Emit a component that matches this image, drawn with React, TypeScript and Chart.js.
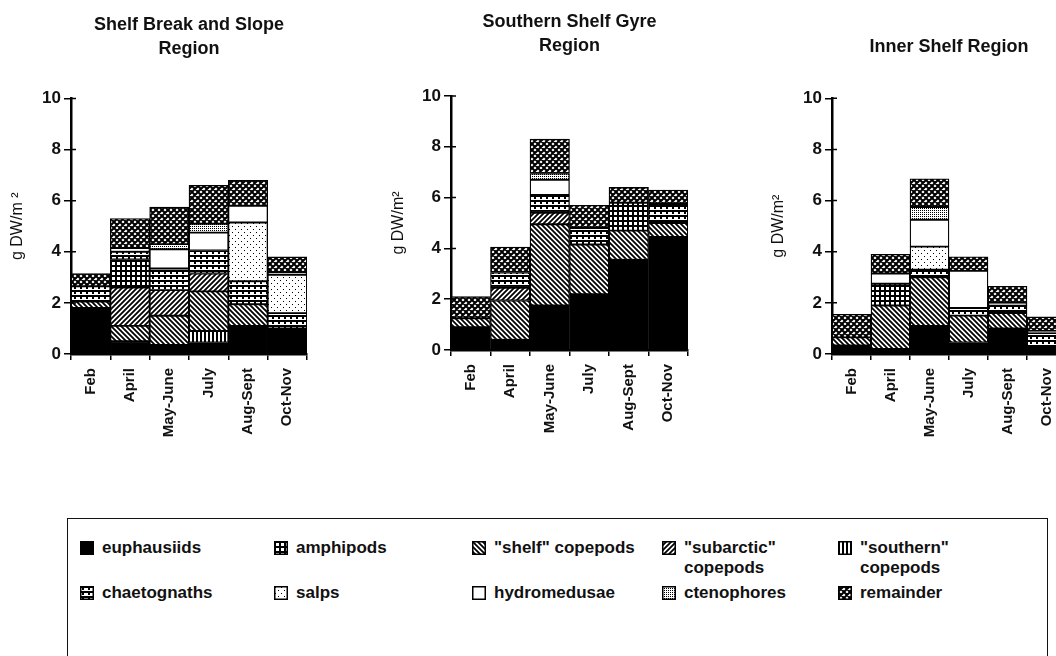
import React, { useEffect, useRef } from 'react';
import { Chart, registerables } from 'chart.js';

Chart.register(...registerables);
Chart.defaults.font.family = '"Liberation Sans", Arial, Helvetica, sans-serif';

// ---------- categories ----------
const months = ['Feb', 'April', 'May-June', 'July', 'Aug-Sept', 'Oct-Nov'];
const yTicks = [0, 2, 4, 6, 8, 10];

// ---------- Shelf Break and Slope Region (g DW/m2) ----------
const slopeEuphausiids = [1.8, 0.5, 0.35, 0.45, 1.1, 1.0];
const slopeSouthern = [0, 0, 0, 0.45, 0, 0];
const slopeShelf = [0.25, 0.6, 1.15, 1.55, 0.85, 0];
const slopeSubarctic = [0, 1.5, 1.0, 0.7, 0, 0];
const slopeAmphipods = [0, 1.1, 0, 0, 0, 0];
const slopeChaetognaths = [0.6, 0.3, 0.85, 0.9, 0.9, 0.6];
const slopeSalps = [0, 0, 0, 0, 2.3, 1.5];
const slopeHydromedusae = [0, 0.15, 0.75, 0.7, 0.65, 0.1];
const slopeCtenophores = [0, 0, 0.2, 0.35, 0, 0];
const slopeRemainder = [0.5, 1.15, 1.45, 1.5, 1.0, 0.6];

// ---------- Southern Shelf Gyre Region ----------
const gyreEuphausiids = [0.9, 0.4, 1.75, 2.2, 3.55, 4.45];
const gyreSouthern = [0, 0, 0, 0, 0, 0];
const gyreShelf = [0.35, 1.55, 3.2, 1.95, 1.15, 0.55];
const gyreSubarctic = [0, 0.5, 0.45, 0, 0, 0];
const gyreAmphipods = [0, 0, 0, 0, 1.1, 0];
const gyreChaetognaths = [0, 0.6, 0.7, 0.65, 0, 0.75];
const gyreSalps = [0, 0, 0, 0, 0, 0];
const gyreHydromedusae = [0, 0, 0.6, 0, 0, 0];
const gyreCtenophores = [0, 0, 0.25, 0, 0, 0];
const gyreRemainder = [0.85, 1.0, 1.35, 0.9, 0.6, 0.55];

// ---------- Inner Shelf Region ----------
const innerEuphausiids = [0.33, 0.2, 1.1, 0.45, 1.0, 0.27];
const innerSouthern = [0, 0, 0, 0, 0, 0];
const innerShelf = [0.32, 1.7, 1.9, 1.05, 0.6, 0];
const innerSubarctic = [0, 0, 0, 0, 0, 0];
const innerAmphipods = [0, 0.85, 0, 0, 0, 0];
const innerChaetognaths = [0, 0, 0.3, 0.3, 0.3, 0.55];
const innerSalps = [0, 0, 0.9, 0, 0, 0];
const innerHydromedusae = [0, 0.4, 1.05, 1.45, 0.1, 0.08];
const innerCtenophores = [0, 0, 0.5, 0, 0, 0];
const innerRemainder = [0.9, 0.75, 1.1, 0.55, 0.65, 0.55];

// stacking order (bottom to top) and pattern kind of each group
const stackNames = [
  'euphausiids', '"southern" copepods', '"shelf" copepods', '"subarctic" copepods', 'amphipods',
  'chaetognaths', 'salps', 'hydromedusae', 'ctenophores', 'remainder',
];
const stackKinds = ['solid', 'vert', 'back', 'fwd', 'grid', 'chaet', 'salps', 'white', 'cteno', 'remainder'];

const slopeSeries = [slopeEuphausiids, slopeSouthern, slopeShelf, slopeSubarctic, slopeAmphipods,
  slopeChaetognaths, slopeSalps, slopeHydromedusae, slopeCtenophores, slopeRemainder];
const gyreSeries = [gyreEuphausiids, gyreSouthern, gyreShelf, gyreSubarctic, gyreAmphipods,
  gyreChaetognaths, gyreSalps, gyreHydromedusae, gyreCtenophores, gyreRemainder];
const innerSeries = [innerEuphausiids, innerSouthern, innerShelf, innerSubarctic, innerAmphipods,
  innerChaetognaths, innerSalps, innerHydromedusae, innerCtenophores, innerRemainder];

// ---------- patterns ----------
function makeTile(kind: string): HTMLCanvasElement {
  const c = document.createElement('canvas');
  const g = c.getContext('2d') as CanvasRenderingContext2D;
  const set = (w: number, h: number) => {
    c.width = w; c.height = h;
    g.fillStyle = '#fff'; g.fillRect(0, 0, w, h);
    g.fillStyle = '#000'; g.strokeStyle = '#000';
  };
  switch (kind) {
    case 'back':
      set(5, 5); g.lineWidth = 1.8; g.beginPath();
      for (const o of [-5, 0, 5]) { g.moveTo(o - 1, -1); g.lineTo(o + 6, 6); }
      g.stroke(); break;
    case 'fwd':
      set(5, 5); g.lineWidth = 1.8; g.beginPath();
      for (const o of [-5, 0, 5]) { g.moveTo(o - 1, 6); g.lineTo(o + 6, -1); }
      g.stroke(); break;
    case 'vert':
      set(4, 4); g.fillRect(0, 0, 2, 4); break;
    case 'grid':
      set(5, 5); g.fillRect(0, 0, 5, 2); g.fillRect(0, 0, 2, 5); break;
    case 'chaet':
      set(6, 5); g.fillRect(0, 0, 6, 2); g.fillRect(2, 0, 2, 4); break;
    case 'salps':
      set(6, 6); g.fillRect(1, 1, 1, 1); g.fillRect(4, 4, 1, 1); break;
    case 'cteno':
      set(2, 2); g.fillRect(0, 0, 1, 1); break;
    case 'remainder':
      set(6, 6); g.lineWidth = 2; g.beginPath();
      for (const o of [-6, 0, 6]) { g.moveTo(o - 1, -1); g.lineTo(o + 7, 7); g.moveTo(o - 1, 7); g.lineTo(o + 7, -1); }
      g.stroke(); break;
    default:
      set(2, 2);
  }
  return c;
}

function fillFor(g: CanvasRenderingContext2D, kind: string): string | CanvasPattern {
  if (kind === 'solid') return '#000';
  if (kind === 'white') return '#fff';
  return g.createPattern(makeTile(kind), 'repeat') as CanvasPattern;
}

// short tick marks on the inner side of the y axis (ticks cross the axis)
const innerTicks = {
  id: 'innerTicks',
  afterDraw(chart: any) {
    const y = chart.scales.y;
    const x0 = chart.chartArea.left;
    const ctx = chart.ctx;
    ctx.save();
    ctx.strokeStyle = '#000';
    ctx.lineWidth = 1.5;
    ctx.beginPath();
    for (const t of y.ticks) {
      const py = y.getPixelForValue(t.value);
      ctx.moveTo(x0, py);
      ctx.lineTo(x0 + 5, py);
    }
    ctx.stroke();
    ctx.restore();
  },
};

// ---------- chart ----------
type RegionProps = {
  left: number; width: number; height: number;
  title: string | string[]; titlePadTop: number; titlePadBottom: number;
  yTitle: string; yTitlePad: number; yWidth: number; xHeight: number; padRight: number;
  series: number[][];
};

function RegionChart(p: RegionProps) {
  const ref = useRef<HTMLCanvasElement>(null);
  useEffect(() => {
    const canvas = ref.current as HTMLCanvasElement;
    const g = canvas.getContext('2d') as CanvasRenderingContext2D;
    const datasets = p.series.map((vals, i) => ({
      label: stackNames[i],
      data: vals.map((v) => (v > 0 ? v : null)),
      backgroundColor: fillFor(g, stackKinds[i]),
      borderColor: '#000',
      borderWidth: 1.3,
      borderSkipped: false as const,
      barPercentage: 1,
      categoryPercentage: 1,
    }));
    const chart = new Chart(canvas, {
      type: 'bar',
      data: { labels: months, datasets },
      plugins: [innerTicks],
      options: {
        animation: false,
        responsive: false,
        layout: { padding: { left: 0, right: p.padRight, top: 0, bottom: 0 } },
        plugins: {
          legend: { display: false },
          tooltip: { enabled: false },
          title: {
            display: true,
            text: p.title,
            fullSize: false,
            color: '#111',
            font: { size: 18, weight: 'bold', lineHeight: 24 / 18 },
            padding: { top: p.titlePadTop, bottom: p.titlePadBottom },
          },
        },
        scales: {
          x: {
            stacked: true,
            grid: { display: true, drawOnChartArea: false, color: '#000', lineWidth: 1.5, tickLength: 6, offset: true },
            border: { color: '#000', width: 2.5 },
            ticks: {
              color: '#111', font: { size: 15, weight: 'bold' },
              minRotation: 90, maxRotation: 90, autoSkip: false, padding: 8,
            },
            afterFit: (s: any) => { s.height = p.xHeight; },
          },
          y: {
            stacked: true,
            min: 0,
            max: 10,
            afterBuildTicks: (s: any) => { s.ticks = yTicks.map((v) => ({ value: v })); },
            ticks: { color: '#111', font: { size: 17, weight: 'bold' }, padding: 3 },
            grid: { drawOnChartArea: false, color: '#000', lineWidth: 1.5, tickLength: 7 },
            border: { color: '#000', width: 2.5 },
            title: {
              display: true, text: p.yTitle, color: '#111',
              font: { size: 16, weight: 'normal', lineHeight: 1.2 },
              padding: { top: p.yTitlePad, bottom: 0 },
            },
            afterFit: (s: any) => { s.width = p.yWidth; },
          },
        },
      },
    });
    return () => chart.destroy();
  }, []);
  return (
    <canvas
      ref={ref}
      width={p.width}
      height={p.height}
      style={{ position: 'absolute', left: p.left, top: 0, width: p.width, height: p.height }}
    />
  );
}

// ---------- legend ----------
const legendLabels = [
  'euphausiids', 'amphipods', '"shelf" copepods', '"subarctic"\ncopepods', '"southern"\ncopepods',
  'chaetognaths', 'salps', 'hydromedusae', 'ctenophores', 'remainder',
];
const legendKinds = ['solid', 'grid', 'back', 'fwd', 'vert', 'chaet', 'salps', 'white', 'cteno', 'remainder'];

function Swatch({ kind, x, y }: { kind: string; x: number; y: number }) {
  const ref = useRef<HTMLCanvasElement>(null);
  useEffect(() => {
    const c = ref.current as HTMLCanvasElement;
    const g = c.getContext('2d') as CanvasRenderingContext2D;
    g.clearRect(0, 0, 14, 14);
    g.fillStyle = fillFor(g, kind);
    g.fillRect(0, 0, 14, 14);
    g.strokeStyle = '#000';
    g.lineWidth = 1.5;
    g.strokeRect(0.75, 0.75, 12.5, 12.5);
  }, [kind]);
  return <canvas ref={ref} width={14} height={14} style={{ position: 'absolute', left: x, top: y - 7 }} />;
}

const colSwatchX = [80, 274, 472, 662, 838];
const colTextX = [102, 296, 494, 684, 860];
const rowY = [548, 593];

function Legend() {
  return (
    <>
      <div
        style={{
          position: 'absolute', left: 67, top: 518, width: 981, height: 160,
          border: '1.5px solid #111', boxSizing: 'border-box',
        }}
      />
      {legendLabels.map((lab, i) => {
        const col = i % 5;
        const row = Math.floor(i / 5);
        const y = rowY[row];
        return (
          <React.Fragment key={lab}>
            <Swatch kind={legendKinds[i]} x={colSwatchX[col]} y={y} />
            <div
              style={{
                position: 'absolute', left: colTextX[col], top: y - 10, lineHeight: '20px',
                fontSize: 17, fontWeight: 'bold', color: '#111', whiteSpace: 'pre',
                fontFamily: '"Liberation Sans", Arial, Helvetica, sans-serif',
              }}
            >
              {lab}
            </div>
          </React.Fragment>
        );
      })}
    </>
  );
}

export default function App() {
  return (
    <div
      style={{
        position: 'fixed', left: 0, top: 0, width: 1056, height: 656, overflow: 'hidden',
        background: '#fff',
      }}
    >
      <RegionChart
        left={0} width={330} height={440}
        title={['Shelf Break and Slope', 'Region']} titlePadTop={13} titlePadBottom={37.5}
        yTitle="g DW/m ²" yTitlePad={8.4} yWidth={71} xHeight={86} padRight={23}
        series={slopeSeries}
      />
      <RegionChart
        left={352} width={360} height={440}
        title={['Southern Shelf Gyre', 'Region']} titlePadTop={10} titlePadBottom={38}
        yTitle="g DW/m²" yTitlePad={37.4} yWidth={99} xHeight={90} padRight={24}
        series={gyreSeries}
      />
      <RegionChart
        left={704} width={380} height={440}
        title="Inner Shelf Region" titlePadTop={35} titlePadBottom={39.3}
        yTitle="g DW/m²" yTitlePad={65.4} yWidth={128} xHeight={86} padRight={18}
        series={innerSeries}
      />
      <Legend />
    </div>
  );
}
